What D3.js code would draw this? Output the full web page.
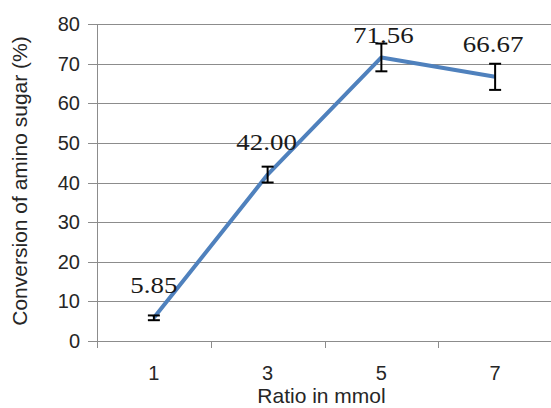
<!DOCTYPE html>
<html>
<head>
<meta charset="utf-8">
<script src="https://cdn.jsdelivr.net/npm/d3@7"></script>
<style>
  body { margin: 0; background: #fff; }
  svg { display: block; }
</style>
</head>
<body>
<div id="chart"></div>
<script>
// chart data
const ratios = ["1", "3", "5", "7"];
const conversion = [5.85, 42.00, 71.56, 66.67];
const errors = [0.6, 2.0, 3.5, 3.3];
const valueLabels = ["5.85", "42.00", "71.56", "66.67"];
const yTicks = [0, 10, 20, 30, 40, 50, 60, 70, 80];

const W = 551, H = 408;
const margin = { top: 24, right: -1, bottom: 67, left: 97 };
const width = W - margin.left - margin.right,
    height = H - margin.top - margin.bottom;

const svg = d3.select("#chart")
    .append("svg")
    .attr("width", W)
    .attr("height", H);

const g = svg.append("g")
    .attr("transform", "translate(" + margin.left + "," + margin.top + ")");

const x = d3.scaleBand()
    .domain(ratios)
    .range([0, width])
    .padding(0);

const y = d3.scaleLinear()
    .domain([0, 80])
    .range([height, 0]);

// gridlines + y ticks
g.append("g")
    .selectAll("line")
    .data(yTicks)
    .enter().append("line")
    .attr("x1", -9)
    .attr("x2", width)
    .attr("y1", d => Math.round(y(d)) + 0.5)
    .attr("y2", d => Math.round(y(d)) + 0.5)
    .attr("stroke", "#8c8c8c")
    .attr("stroke-width", 1);

g.append("g")
    .selectAll("text")
    .data(yTicks)
    .enter().append("text")
    .attr("x", -17)
    .attr("y", d => y(d))
    .attr("dy", "0.35em")
    .attr("text-anchor", "end")
    .style("font-family", "'Liberation Sans', Arial, sans-serif")
    .style("font-size", "20px")
    .style("fill", "#262626")
    .text(d => d);

// y axis line
g.append("line")
    .attr("x1", 0.5).attr("x2", 0.5)
    .attr("y1", 0).attr("y2", height + 7)
    .attr("stroke", "#8c8c8c");

// x axis separators between categories
const bounds = ratios.map(r => x(r)).concat([width]);
g.append("g")
    .selectAll("line")
    .data(bounds.slice(1))
    .enter().append("line")
    .attr("x1", d => Math.round(d) + 0.5)
    .attr("x2", d => Math.round(d) + 0.5)
    .attr("y1", height)
    .attr("y2", height + 7)
    .attr("stroke", "#8c8c8c");

g.append("g")
    .selectAll("text")
    .data(ratios)
    .enter().append("text")
    .attr("x", d => x(d) + x.bandwidth() / 2)
    .attr("y", height + 39)
    .attr("text-anchor", "middle")
    .style("font-family", "'Liberation Sans', Arial, sans-serif")
    .style("font-size", "20px")
    .style("fill", "#262626")
    .text(d => d);

// axis titles
g.append("text")
    .attr("x", width / 2 - 3)
    .attr("y", height + 62)
    .attr("text-anchor", "middle")
    .style("font-family", "'Liberation Sans', Arial, sans-serif")
    .style("font-size", "21px")
    .style("fill", "#262626")
    .text("Ratio in mmol");

svg.append("text")
    .attr("transform", "translate(20,181)rotate(-90)")
    .attr("dy", "0.35em")
    .attr("text-anchor", "middle")
    .style("font-family", "'Liberation Sans', Arial, sans-serif")
    .style("font-size", "21px")
    .style("fill", "#262626")
    .text("Conversion of amino sugar (%)");

// line
const cx = d => x(d) + x.bandwidth() / 2;
const line = d3.line()
    .x((d, i) => cx(ratios[i]))
    .y(d => y(d));

g.append("path")
    .datum(conversion)
    .attr("d", line)
    .attr("fill", "none")
    .attr("stroke", "#4f81bd")
    .attr("stroke-width", 4)
    .attr("stroke-linejoin", "round");

// error bars
const eb = g.append("g").selectAll("g")
    .data(conversion)
    .enter().append("g");

eb.append("line")
    .attr("x1", (d, i) => cx(ratios[i]))
    .attr("x2", (d, i) => cx(ratios[i]))
    .attr("y1", (d, i) => y(d + errors[i]))
    .attr("y2", (d, i) => y(d - errors[i]))
    .attr("stroke", "#000")
    .attr("stroke-width", 2);

[1, -1].forEach(s => {
    eb.append("line")
        .attr("x1", (d, i) => cx(ratios[i]) - 6)
        .attr("x2", (d, i) => cx(ratios[i]) + 6)
        .attr("y1", (d, i) => y(d + s * errors[i]))
        .attr("y2", (d, i) => y(d + s * errors[i]))
        .attr("stroke", "#000")
        .attr("stroke-width", 2);
});

// value labels (the original's serif digits are set a bit wide)
const labelDy = [-25, -25, -14, -25];
const labelDx = [0, -1, 2, -2];
g.append("g")
    .selectAll("text")
    .data(conversion)
    .enter().append("text")
    .attr("transform", (d, i) =>
        "translate(" + (cx(ratios[i]) + labelDx[i]) + "," + (y(d) + labelDy[i]) + ")scale(1.17,1)")
    .attr("text-anchor", "middle")
    .style("font-family", "'Liberation Serif', 'Times New Roman', serif")
    .style("font-size", "23px")
    .style("fill", "#1a1a1a")
    .text((d, i) => valueLabels[i]);
</script>
</body>
</html>
